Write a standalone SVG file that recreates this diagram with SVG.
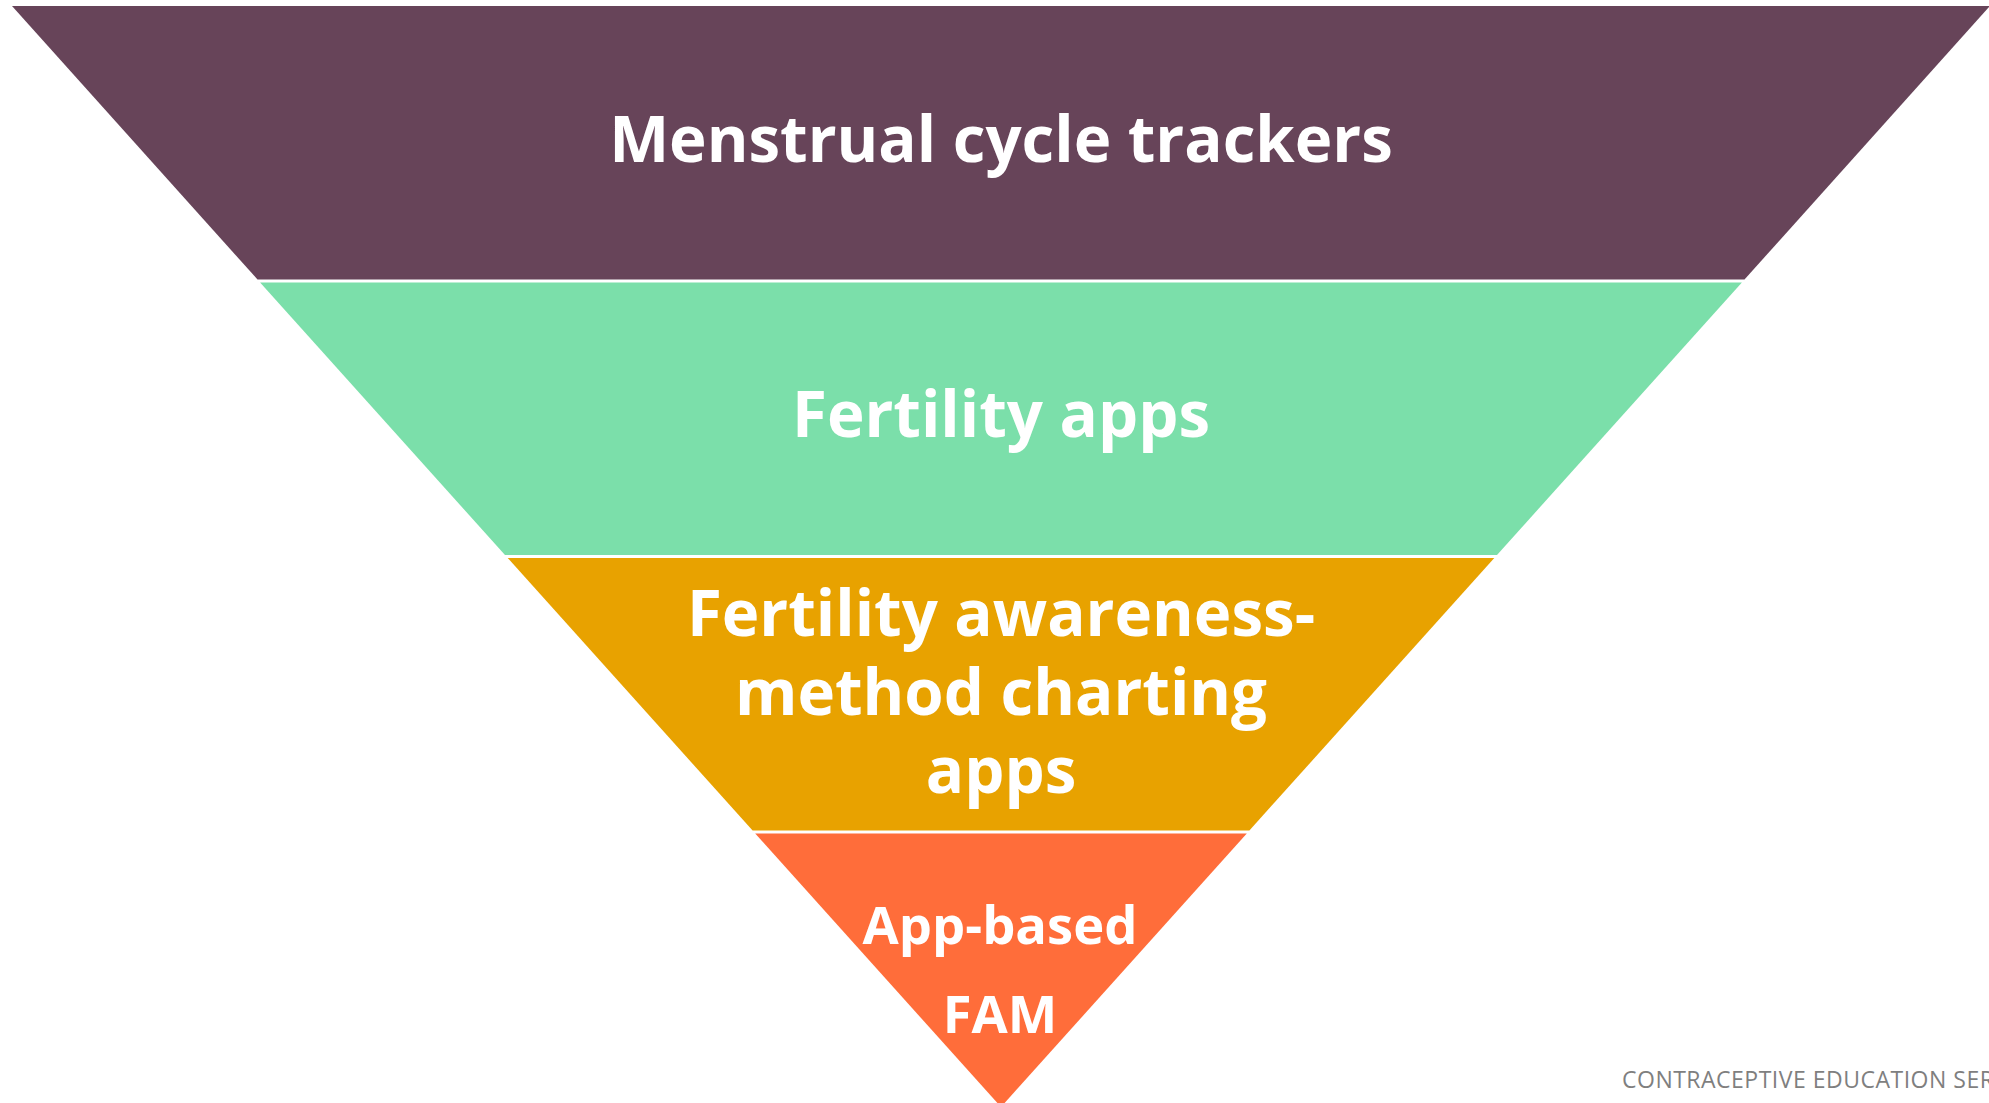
<svg xmlns="http://www.w3.org/2000/svg" width="1989" height="1103" viewBox="0 0 1989 1103">
  <style>
    .label { font-family: "Open Sans", "Noto Sans", "Liberation Sans", sans-serif; font-weight: 700; fill: #ffffff; text-anchor: middle; }
    .big { font-size: 63.6px; }
    .small { font-size: 52.5px; }
    .footer { font-family: "Open Sans", "Noto Sans", "Liberation Sans", sans-serif; font-size: 23px; fill: #7f7f7f; letter-spacing: 0.5px; }
  </style>
  <rect x="0" y="0" width="1989" height="1103" fill="#ffffff"/>

  <!-- Inverted funnel: four stacked bands separated by thin white gaps -->
  <g id="band-trackers">
    <polygon points="12,6 1990,6 1744.5,279.5 257.5,279.5" fill="#674459"/>
    <text class="label big" x="1001" y="162">Menstrual cycle trackers</text>
  </g>

  <g id="band-fertility-apps">
    <polygon points="260.1,282.5 1741.9,282.5 1497,555 505,555" fill="#7bdfaa"/>
    <text class="label big" x="1001" y="437">Fertility apps</text>
  </g>

  <g id="band-fam-charting">
    <polygon points="507.7,558 1494.3,558 1249.4,830.5 752.6,830.5" fill="#e8a200"/>
    <text class="label big" x="1001" y="636">Fertility awareness-</text>
    <text class="label big" x="1001" y="715">method charting</text>
    <text class="label big" x="1001" y="793">apps</text>
  </g>

  <g id="band-app-fam">
    <polygon points="755.2,833.5 1246.8,833.5 1001,1107" fill="#ff6d3a"/>
    <text class="label small" x="1000" y="944">App-based</text>
    <text class="label small" x="1000" y="1033">FAM</text>
  </g>

  <text class="footer" x="1622" y="1088">CONTRACEPTIVE EDUCATION SER</text>
</svg>
